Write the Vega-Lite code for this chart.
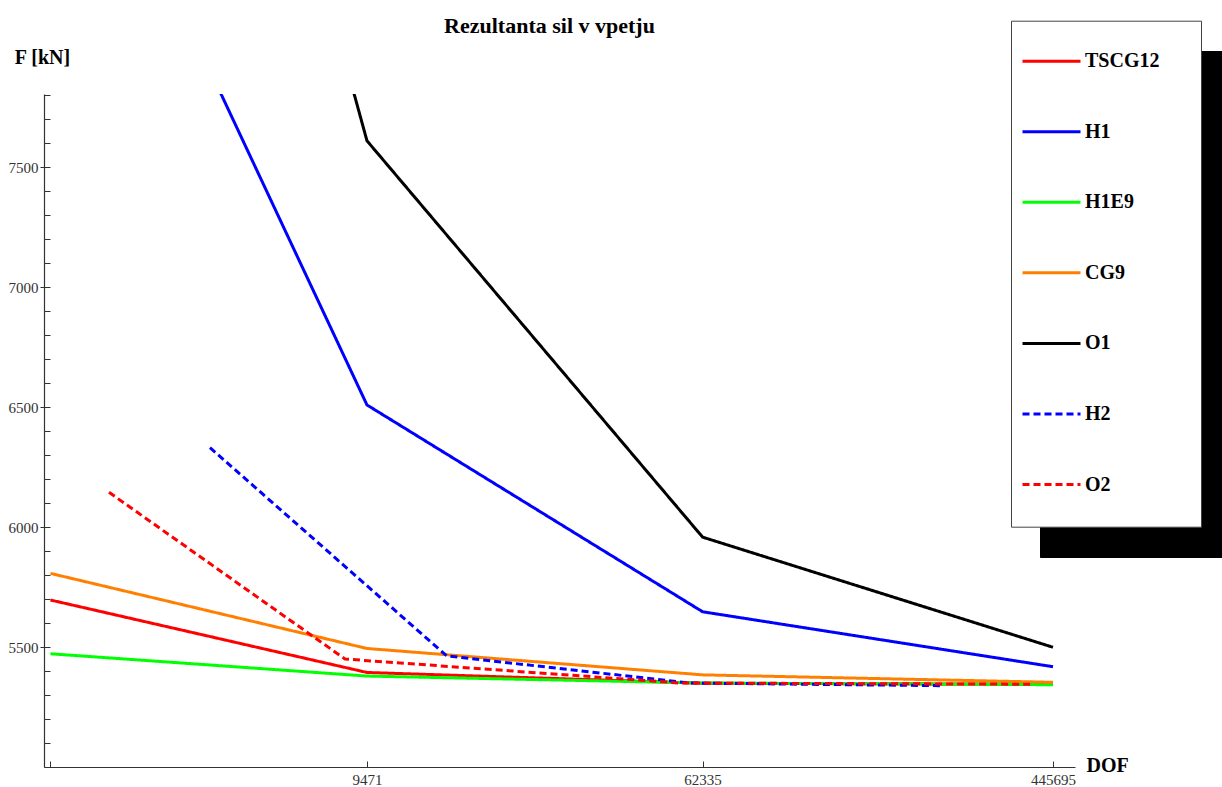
{
  "$schema": "https://vega.github.io/schema/vega-lite/v6.json",
  "width": 1031,
  "height": 673,
  "autosize": {"type": "none"},
  "padding": {"left": 44, "top": 94, "right": 147, "bottom": 20},
  "background": "white",
  "title": {
    "text": "Rezultanta sil v vpetju",
    "font": "Liberation Serif",
    "fontSize": 22,
    "fontWeight": "bold",
    "color": "black",
    "anchor": "middle",
    "frame": "group",
    "baseline": "alphabetic",
    "offset": 0,
    "dx": -10,
    "dy": 35
  },
  "datasets": {
    "forces": [
      {"series": "TSCG12", "dof": 1602, "f": 5696},
      {"series": "TSCG12", "dof": 9471, "f": 5394},
      {"series": "TSCG12", "dof": 62335, "f": 5349},
      {"series": "TSCG12", "dof": 445695, "f": 5345},
      {"series": "H1", "dof": 1602, "f": 9320},
      {"series": "H1", "dof": 9471, "f": 6509},
      {"series": "H1", "dof": 62335, "f": 5647},
      {"series": "H1", "dof": 445695, "f": 5418},
      {"series": "H1E9", "dof": 1602, "f": 5472},
      {"series": "H1E9", "dof": 9471, "f": 5379},
      {"series": "H1E9", "dof": 62335, "f": 5350},
      {"series": "H1E9", "dof": 445695, "f": 5343},
      {"series": "CG9", "dof": 1602, "f": 5807},
      {"series": "CG9", "dof": 9471, "f": 5494},
      {"series": "CG9", "dof": 62335, "f": 5384},
      {"series": "CG9", "dof": 445695, "f": 5353},
      {"series": "O1", "dof": 1602, "f": 12420},
      {"series": "O1", "dof": 9471, "f": 7610},
      {"series": "O1", "dof": 62335, "f": 5958},
      {"series": "O1", "dof": 445695, "f": 5499},
      {"series": "H2", "dof": 3923, "f": 6331},
      {"series": "H2", "dof": 14820, "f": 5463},
      {"series": "H2", "dof": 58080, "f": 5350},
      {"series": "H2", "dof": 236300, "f": 5339},
      {"series": "O2", "dof": 2225, "f": 6145},
      {"series": "O2", "dof": 8373, "f": 5450},
      {"series": "O2", "dof": 54900, "f": 5350},
      {"series": "O2", "dof": 398500, "f": 5345}
    ],
    "names": [
      {"series": "TSCG12"},
      {"series": "H1"},
      {"series": "H1E9"},
      {"series": "CG9"},
      {"series": "O1"},
      {"series": "H2"},
      {"series": "O2"}
    ]
  },
  "layer": [
    {
      "data": {"name": "names"},
      "mark": {"type": "point", "opacity": 0, "clip": true},
      "encoding": {
        "fill": {
          "field": "series",
          "type": "nominal",
          "scale": {"range": ["black"]},
          "legend": {
            "title": null,
            "orient": "none",
            "legendX": 996,
            "legendY": -43,
            "fillColor": "black",
            "strokeColor": "black",
            "labelColor": "black",
            "symbolStrokeColor": "black",
            "symbolFillColor": "black"
          }
        }
      }
    },
    {
      "data": {"name": "forces"},
      "mark": {"type": "line", "strokeWidth": 3, "clip": true},
      "encoding": {
        "x": {
          "field": "dof",
          "type": "quantitative",
          "scale": {"type": "log", "domain": [1545, 504300], "nice": false},
          "axis": {
            "values": [1602, 9471, 62335, 445695],
            "format": "d",
            "labelExpr": "datum.value < 2000 ? '' : datum.label",
            "tickSize": -6,
            "labelPadding": 11,
            "title": "DOF",
            "titleAngle": 0,
            "titleAlign": "left",
            "titleBaseline": "middle",
            "titleX": 1042,
            "titleY": -2
          }
        },
        "y": {
          "field": "f",
          "type": "quantitative",
          "scale": {"domain": [5000, 7805], "zero": false, "nice": false},
          "axis": {
            "orient": "left",
            "values": [5000, 5100, 5200, 5300, 5400, 5500, 5600, 5700, 5800, 5900, 6000, 6100, 6200, 6300, 6400, 6500, 6600, 6700, 6800, 6900, 7000, 7100, 7200, 7300, 7400, 7500, 7600, 7700, 7800],
            "labels": false,
            "tickSize": -6,
            "title": "F [kN]",
            "titleAngle": 0,
            "titleAlign": "center",
            "titleBaseline": "middle",
            "titleX": -2,
            "titleY": -37
          }
        },
        "color": {
          "field": "series",
          "type": "nominal",
          "scale": {
            "domain": ["TSCG12", "H1", "H1E9", "CG9", "O1", "H2", "O2"],
            "range": ["#ff0000", "#0000ff", "#00ff00", "#ff8000", "#000000", "#0000ff", "#ff0000"]
          },
          "legend": {
            "title": null,
            "orient": "none",
            "legendX": 967,
            "legendY": -73.3,
            "fillColor": "white",
            "strokeColor": "#444"
          }
        },
        "strokeDash": {
          "field": "series",
          "type": "nominal",
          "scale": {
            "domain": ["TSCG12", "H1", "H1E9", "CG9", "O1", "H2", "O2"],
            "range": [[1, 0], [1, 0], [1, 0], [1, 0], [1, 0], [7, 4], [7, 4]]
          },
          "legend": {
            "title": null,
            "orient": "none",
            "legendX": 967,
            "legendY": -73.3,
            "fillColor": "white",
            "strokeColor": "#444"
          }
        }
      }
    },
    {
      "data": {"name": "forces"},
      "mark": {"type": "point", "opacity": 0, "clip": true},
      "encoding": {
        "y": {
          "field": "f",
          "type": "quantitative",
          "axis": {
            "orient": "left",
            "values": [5500, 6000, 6500, 7000, 7500],
            "format": "d",
            "tickSize": 4,
            "labelPadding": 2,
            "domain": false,
            "title": null
          }
        }
      }
    }
  ],
  "resolve": {"axis": {"y": "independent"}},
  "config": {
    "view": {"stroke": null},
    "axis": {
      "grid": false,
      "labelFont": "Liberation Serif",
      "labelFontSize": 15,
      "labelColor": "#333",
      "tickColor": "#333",
      "tickWidth": 1,
      "domainColor": "#333",
      "domainWidth": 1.2,
      "titleFont": "Liberation Serif",
      "titleFontWeight": "bold",
      "titleFontSize": 20,
      "titleColor": "black"
    },
    "legend": {
      "labelFont": "Liberation Serif",
      "labelFontWeight": "bold",
      "labelFontSize": 20,
      "labelColor": "black",
      "labelOffset": 3,
      "symbolType": "M-1,0H1M0,-1.05M0,0.877M4.59,0",
      "symbolSize": 3364,
      "symbolStrokeWidth": 3,
      "rowPadding": 2.55,
      "padding": 10
    }
  }
}
